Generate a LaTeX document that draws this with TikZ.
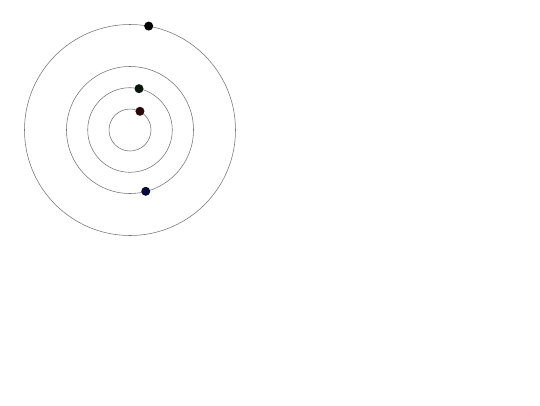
\documentclass[tikz,border=0pt]{standalone}
\usetikzlibrary{calc}
\definecolor{pred}{RGB}{40,8,8}
\definecolor{pgreen}{RGB}{8,22,12}
\definecolor{pblue}{RGB}{10,10,55}
\begin{document}
\begin{tikzpicture}[x=1pt,y=-1pt,
  orbit/.style={circle,draw=black!55,line width=0.55pt,inner sep=0pt,minimum size=#1},
  planet/.style={circle,fill=#1,inner sep=0pt,minimum size=9pt}]
\useasboundingbox (0,0) rectangle (540,405);
\coordinate (c) at (130,130);
\node[orbit=42pt] (o1) at (c) {};
\node[orbit=84.6pt] (o2) at (c) {};
\node[orbit=127pt] (o3) at (c) {};
\node[orbit=211pt] (o4) at (c) {};
\node[planet=pred] (p1) at ($(c)+(-62:21.2)$) {};
\node[planet=pgreen] (p2) at ($(c)+(-77.7:42.3)$) {};
\node[planet=pblue] (p3) at ($(c)+(75.6:63.3)$) {};
\node[planet=black] (p4) at ($(c)+(-79.8:105.6)$) {};
\end{tikzpicture}
\end{document}
